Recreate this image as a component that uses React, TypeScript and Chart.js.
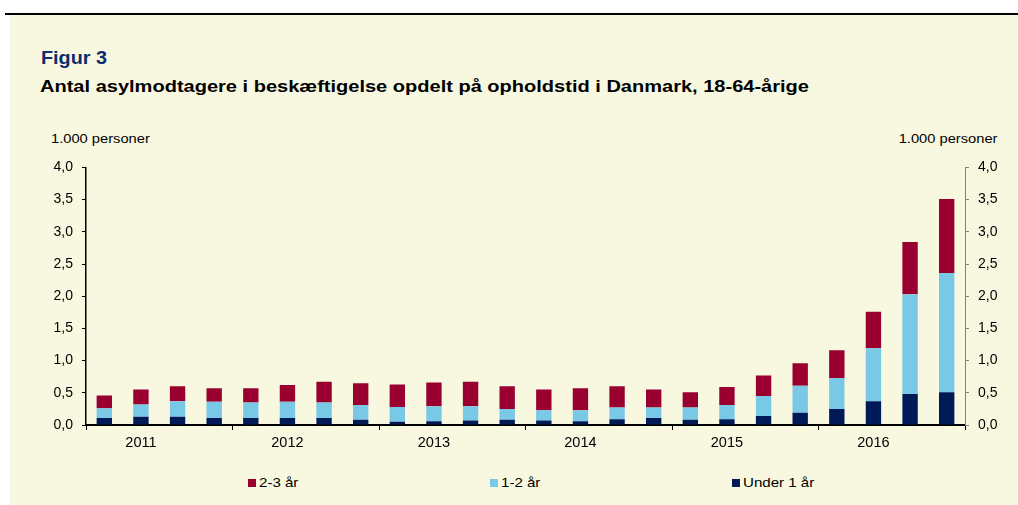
import React, { useEffect, useRef } from "react";
import { Chart, registerables } from "chart.js";

Chart.register(...registerables);

const quarters = [
  "2011K1", "2011K2", "2011K3", "2011K4",
  "2012K1", "2012K2", "2012K3", "2012K4",
  "2013K1", "2013K2", "2013K3", "2013K4",
  "2014K1", "2014K2", "2014K3", "2014K4",
  "2015K1", "2015K2", "2015K3", "2015K4",
  "2016K1", "2016K2", "2016K3", "2016K4",
];
const years = ["2011", "2012", "2013", "2014", "2015", "2016"];

const under1 = [0.11, 0.13, 0.13, 0.11, 0.11, 0.11, 0.11, 0.08, 0.05, 0.06, 0.07, 0.08, 0.07, 0.06, 0.09, 0.11, 0.08, 0.09, 0.14, 0.19, 0.25, 0.37, 0.48, 0.51];
const oneToTwo = [0.15, 0.19, 0.24, 0.25, 0.24, 0.25, 0.24, 0.23, 0.23, 0.23, 0.22, 0.17, 0.16, 0.17, 0.18, 0.16, 0.19, 0.22, 0.31, 0.42, 0.48, 0.82, 1.55, 1.85];
const twoToThree = [0.20, 0.23, 0.23, 0.21, 0.22, 0.26, 0.32, 0.34, 0.35, 0.37, 0.38, 0.35, 0.32, 0.34, 0.33, 0.28, 0.24, 0.28, 0.32, 0.35, 0.43, 0.57, 0.81, 1.15];

const yTicks = [0, 0.5, 1, 1.5, 2, 2.5, 3, 3.5, 4];

const C_RED = "#990030";
const C_BLUE = "#78C8E6";
const C_NAVY = "#001A57";
const BG = "#F8F8E1";
const FONT = "'Liberation Sans', Arial, sans-serif";

const fmt = (v: number) => v.toFixed(1).replace(".", ",");

export default function App() {
  const ref = useRef<HTMLCanvasElement | null>(null);

  useEffect(() => {
    if (!ref.current) return;
    Chart.defaults.font.family = FONT;
    Chart.defaults.font.size = 14;
    Chart.defaults.color = "#000";
    const chart = new Chart(ref.current, {
      type: "bar",
      data: {
        labels: quarters,
        datasets: [
          { label: "Under 1 år", data: under1, backgroundColor: C_NAVY, yAxisID: "y" },
          { label: "1-2 år", data: oneToTwo, backgroundColor: C_BLUE, yAxisID: "y" },
          { label: "2-3 år", data: twoToThree, backgroundColor: C_RED, yAxisID: "y" },
        ],
      },
      options: {
        animation: false,
        responsive: true,
        maintainAspectRatio: false,
        layout: { padding: { top: 15, left: 0, right: 0, bottom: 0 } },
        datasets: { bar: { barPercentage: 0.42, categoryPercentage: 1 } },
        plugins: { legend: { display: false }, tooltip: { enabled: false }, title: { display: false } },
        scales: {
          x: {
            type: "category",
            position: "bottom",
            stacked: true,
            offset: true,
            grid: {
              offset: true,
              drawOnChartArea: false,
              drawTicks: true,
              tickLength: 5,
              lineWidth: 1,
              color: (ctx: any) => (ctx.index === undefined || ctx.index % 4 === 0 ? "#000" : "rgba(0,0,0,0)"),
            },
            border: { display: true, color: "#000", width: 2 },
            ticks: {
              autoSkip: false,
              maxRotation: 0,
              minRotation: 0,
              padding: 4,
              color: "#000",
              font: { size: 14.5, family: FONT },
              callback: (_v: any, i: number) => (i % 4 === 1 ? years[Math.floor(i / 4)] : ""),
            },
            afterFit: (s: any) => { s.height = 30; },
          },
          y: {
            type: "linear",
            position: "left",
            stacked: true,
            min: 0,
            max: 4,
            afterBuildTicks: (s: any) => { s.ticks = yTicks.map((v) => ({ value: v })); },
            grid: { drawOnChartArea: false, drawTicks: true, tickLength: 4, color: "#000", lineWidth: 1 },
            border: { display: true, color: "#000", width: 1.5 },
            ticks: { padding: 9, color: "#000", font: { size: 14, family: FONT }, callback: (v: any) => fmt(Number(v)) },
            afterFit: (s: any) => { s.width = 86; },
          },
          y2: {
            type: "linear",
            position: "right",
            min: 0,
            max: 4,
            afterBuildTicks: (s: any) => { s.ticks = yTicks.map((v) => ({ value: v })); },
            grid: { drawOnChartArea: false, drawTicks: true, tickLength: 4, color: "#808080", lineWidth: 1 },
            border: { display: true, color: "#808080", width: 1 },
            ticks: { padding: 9, color: "#000", font: { size: 14, family: FONT }, callback: (v: any) => fmt(Number(v)) },
            afterFit: (s: any) => { s.width = 53; },
          },
        },
      },
    });
    return () => chart.destroy();
  }, []);

  const legendItems = [
    { label: "2-3 år", color: C_RED, x: 248 },
    { label: "1-2 år", color: C_BLUE, x: 490 },
    { label: "Under 1 år", color: C_NAVY, x: 732 },
  ];

  return (
    <div style={{ position: "absolute", left: 0, top: 0, width: 1018, height: 505, background: "#fff", overflow: "hidden", fontFamily: FONT }}>
      <div style={{ position: "absolute", left: 5, right: 0, top: 13, height: 1.5, background: "#000" }} />
      <div style={{ position: "absolute", left: 10, right: 0, top: 15, bottom: 0, background: BG }} />
      <div style={{ position: "absolute", left: 41, top: 49, fontSize: 18, lineHeight: "18px", fontWeight: "bold", color: "#0A2D6E", whiteSpace: "nowrap", transform: "scaleX(1.1)", transformOrigin: "left center" }}>
        Figur 3
      </div>
      <div style={{ position: "absolute", left: 40, top: 78, fontSize: 17, lineHeight: "17px", fontWeight: "bold", color: "#000", whiteSpace: "nowrap", transform: "scaleX(1.178)", transformOrigin: "left center" }}>
        Antal asylmodtagere i beskæftigelse opdelt på opholdstid i Danmark, 18-64-årige
      </div>
      <div style={{ position: "absolute", left: 51, top: 132, fontSize: 13, lineHeight: "13px", color: "#000", whiteSpace: "nowrap", transform: "scaleX(1.13)", transformOrigin: "left center" }}>
        1.000 personer
      </div>
      <div style={{ position: "absolute", right: 21, top: 132, fontSize: 13, lineHeight: "13px", color: "#000", whiteSpace: "nowrap", transform: "scaleX(1.13)", transformOrigin: "right center" }}>
        1.000 personer
      </div>
      <div style={{ position: "absolute", left: 0, top: 150, width: 1018, height: 305 }}>
        <canvas ref={ref} />
      </div>
      {legendItems.map((it) => (
        <div key={it.label} style={{ position: "absolute", left: it.x, top: 476, height: 14, display: "flex", alignItems: "center", whiteSpace: "nowrap" }}>
          <span style={{ display: "inline-block", width: 7.5, height: 7.5, background: it.color, marginRight: 3 }} />
          <span style={{ display: "inline-block", fontSize: 13, lineHeight: "14px", color: "#000", transform: "scaleX(1.16)", transformOrigin: "left center" }}>{it.label}</span>
        </div>
      ))}
    </div>
  );
}
